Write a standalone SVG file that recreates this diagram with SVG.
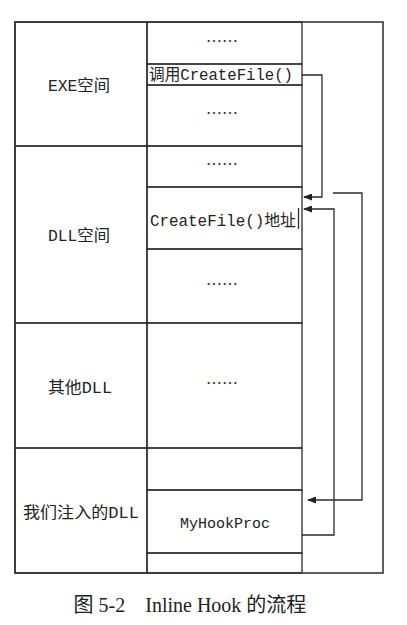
<svg xmlns="http://www.w3.org/2000/svg" width="407" height="625" viewBox="0 0 407 625">
<style>
.cell{fill:none;stroke:#2b2b2b;stroke-width:1.3}
.frame{fill:none;stroke:#2b2b2b;stroke-width:1.5}
.lbl{font-family:"Liberation Mono","Noto Sans CJK SC",monospace;font-size:16px;fill:#222;text-anchor:middle}
.dots{font-family:"Noto Sans CJK SC",sans-serif;font-size:16px;fill:#333;text-anchor:middle}
.conn{fill:none;stroke:#2b2b2b;stroke-width:1.3}
.cap{font-family:"Liberation Serif","Noto Sans CJK SC",serif;font-size:20px;fill:#222;text-anchor:middle;white-space:pre}
</style>
<defs>
<marker id="arr" markerWidth="9" markerHeight="7" refX="8" refY="3.5" orient="auto" markerUnits="userSpaceOnUse">
<path d="M0,0 L9,3.5 L0,7 z" fill="#222"/>
</marker>
</defs>
<rect width="407" height="625" fill="#fff"/>
<rect class="frame" x="15" y="22" width="368" height="551"/>
<g id="exe-space"><rect class="cell" x="15" y="22" width="132" height="124"/><text class="lbl" x="79" y="91" textLength="62" lengthAdjust="spacingAndGlyphs">EXE空间</text></g>
<g id="dll-space"><rect class="cell" x="15" y="146" width="132" height="177"/><text class="lbl" x="79" y="241" textLength="62" lengthAdjust="spacingAndGlyphs">DLL空间</text></g>
<g id="other-dll"><rect class="cell" x="15" y="323" width="132" height="125"/><text class="lbl" x="80" y="393" textLength="64" lengthAdjust="spacingAndGlyphs">其他DLL</text></g>
<g id="our-dll"><rect class="cell" x="15" y="448" width="132" height="125"/><text class="lbl" x="81" y="518" textLength="116" lengthAdjust="spacingAndGlyphs">我们注入的DLL</text></g>
<g id="exe-dots1"><rect class="cell" x="147" y="22" width="155" height="42"/><text class="dots" x="222" y="47">……</text></g>
<g id="exe-call"><rect class="cell" x="147" y="64" width="155" height="21"/><text class="lbl" x="221" y="80" textLength="144" lengthAdjust="spacingAndGlyphs">调用CreateFile()</text></g>
<g id="exe-dots2"><rect class="cell" x="147" y="85" width="155" height="61"/><text class="dots" x="222" y="119">……</text></g>
<g id="dll-dots1"><rect class="cell" x="147" y="146" width="155" height="41"/><text class="dots" x="222" y="170">……</text></g>
<g id="dll-addr"><rect class="cell" x="147" y="187" width="155" height="62"/><text class="lbl" x="223" y="226" textLength="146" lengthAdjust="spacingAndGlyphs">CreateFile()地址</text><line class="cell" x1="298.5" y1="208" x2="298.5" y2="229"/></g>
<g id="dll-dots2"><rect class="cell" x="147" y="249" width="155" height="74"/><text class="dots" x="222" y="290">……</text></g>
<g id="other-dots"><rect class="cell" x="147" y="323" width="155" height="125"/><text class="dots" x="222" y="389">……</text></g>
<g id="our-top"><rect class="cell" x="147" y="448" width="155" height="42"/></g>
<g id="hook-proc"><rect class="cell" x="147" y="490" width="155" height="63"/><text class="lbl" x="225" y="528" style="font-size:15px">MyHookProc</text></g>
<g id="our-bottom"><rect class="cell" x="147" y="553" width="155" height="20"/></g>
<g id="connectors">
<path class="conn" d="M302,75 H322 V197 H304" marker-end="url(#arr)"/>
<path class="conn" d="M302,535 H334 V209 H304" marker-end="url(#arr)"/>
<path class="conn" d="M333,193 H362 V500 H308" marker-end="url(#arr)"/>
</g>
<text class="cap" x="190" y="612" xml:space="preserve">图 5-2    Inline Hook 的流程</text>
</svg>
